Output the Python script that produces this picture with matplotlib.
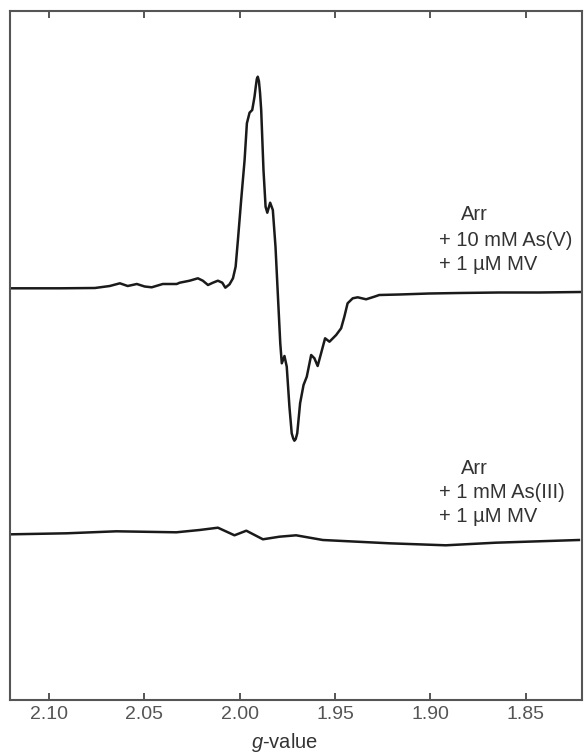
import numpy as np
import matplotlib
matplotlib.use("Agg")
import matplotlib.pyplot as plt

plt.rcParams['font.family'] = ['Liberation Sans', 'DejaVu Sans']
plt.rcParams['mathtext.fontset'] = 'custom'
plt.rcParams['mathtext.it'] = 'Liberation Sans:italic'
plt.rcParams['mathtext.rm'] = 'Liberation Sans'

# Arr + 10 mM As(V) + 1 uM MV  (g-value, intensity a.u.)
g_asv = [2.1204, 2.0942, 2.0759, 2.0681, 2.0628, 2.0587, 2.0539, 2.0498, 2.0461, 2.0403,
         2.0330, 2.0314, 2.0262, 2.0219, 2.0193, 2.0166, 2.0140, 2.0114, 2.0091, 2.0075,
         2.0053, 2.0035, 2.0021, 2.0009, 1.9992, 1.9974, 1.9962, 1.9948, 1.9934, 1.9922,
         1.9915, 1.9910, 1.9905, 1.9899, 1.9893, 1.9887, 1.9875, 1.9864, 1.9855, 1.9840,
         1.9826, 1.9812, 1.9800, 1.9787, 1.9779, 1.9765, 1.9753, 1.9739, 1.9727, 1.9719,
         1.9713, 1.9706, 1.9698, 1.9683, 1.9665, 1.9648, 1.9625, 1.9608, 1.9591, 1.9573,
         1.9552, 1.9529, 1.9494, 1.9468, 1.9451, 1.9434, 1.9407, 1.9381, 1.9337, 1.9294,
         1.9268, 1.9163, 1.9006, 1.8849, 1.8640, 1.8430, 1.8211]
i_asv = [411.7, 411.7, 412.0, 414.0, 416.7, 414.0, 416.0, 413.5, 412.7, 416.0,
         416.0, 417.3, 419.3, 421.7, 419.3, 415.0, 417.3, 419.3, 417.3, 412.3,
         415.7, 421.7, 433.3, 460.0, 500.0, 540.0, 576.7, 587.3, 590.0, 603.3,
         614.0, 621.0, 623.3, 619.0, 607.0, 590.0, 530.0, 493.3, 487.3, 497.3,
         490.0, 453.3, 406.7, 356.7, 336.7, 344.0, 333.3, 293.3, 266.7, 261.5,
         259.3, 261.0, 266.7, 296.7, 315.0, 323.3, 345.0, 341.7, 334.0, 346.7,
         361.7, 358.3, 365.0, 371.7, 383.3, 396.7, 401.7, 402.7, 400.7, 403.3,
         405.0, 405.5, 406.5, 407.0, 407.5, 407.5, 408.0]

# Arr + 1 mM As(III) + 1 uM MV
g_asiii = [2.1195, 2.0907, 2.0646, 2.0332, 2.0210, 2.0114, 2.0027, 1.9965, 1.9878, 1.9791,
           1.9704, 1.9564, 1.9215, 1.8919, 1.8657, 1.8221]
i_asiii = [165.7, 166.7, 168.7, 167.7, 170.0, 172.3, 164.7, 169.3, 160.7, 163.3,
           164.7, 160.0, 156.7, 154.7, 157.3, 160.0]

xticks = [2.10, 2.05, 2.00, 1.95, 1.90, 1.85]
labels_asv = ["Arr", "+ 10 mM As(V)", "+ 1 µM MV"]
labels_asiii = ["Arr", "+ 1 mM As(III)", "+ 1 µM MV"]

W, H = 584, 753
fig = plt.figure(figsize=(W / 100, H / 100), dpi=100)
ax = fig.add_axes([10 / W, 53 / H, 572 / W, 689 / H])

ax.plot(g_asv, i_asv, color='#1a1a1a', lw=1.8, solid_joinstyle='round')
ax.plot(g_asiii, i_asiii, color='#1a1a1a', lw=1.8, solid_joinstyle='round')

ax.set_xlim(2.1204, 1.8205)
ax.set_ylim(0, 689)
ax.set_xticks(xticks)
ax.set_xticklabels(["%.2f" % t for t in xticks])
ax.set_yticks([])
ax.tick_params(axis='x', direction='in', top=True, length=5, width=1.4,
               color='#555555', labelsize=14, labelcolor='#555555', pad=4.5)
for s in ax.spines.values():
    s.set_color('#555555')
    s.set_linewidth(1.5)

fig.text(285 / W, 1 - 742 / H, r"$g$-value", ha='center', va='center',
         fontsize=14.5, color='#333333')

def label(lines, y0):
    fig.text(461 / W, 1 - y0 / H, lines[0], ha='left', va='center', fontsize=14.5, color='#333333')
    fig.text(439 / W, 1 - (y0 + 25) / H, lines[1], ha='left', va='center', fontsize=14.5, color='#333333')
    fig.text(439 / W, 1 - (y0 + 49) / H, lines[2], ha='left', va='center', fontsize=14.5, color='#333333')

label(labels_asv, 215)
label(labels_asiii, 468)

plt.savefig("out.png", dpi=100)
plt.close()
